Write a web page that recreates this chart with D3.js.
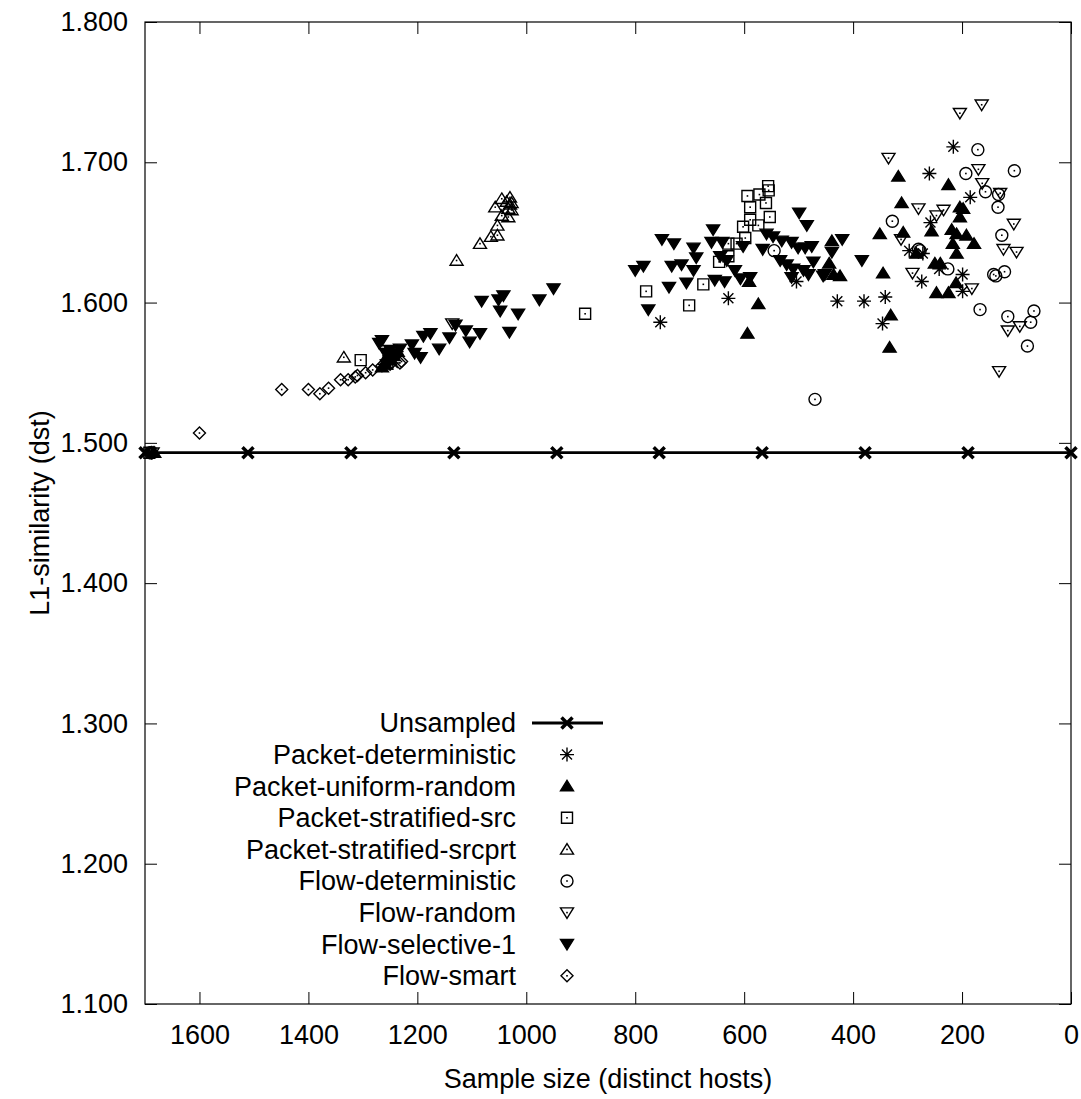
<!DOCTYPE html>
<html>
<head>
<meta charset="utf-8">
<script src="https://cdn.jsdelivr.net/npm/d3@7"></script>
<style>
  body { margin: 0; background: #fff; }
  svg text { font-family: "Liberation Sans", Arial, sans-serif; fill: #000; }
</style>
</head>
<body>
<svg id="chart" width="1081" height="1099"></svg>
<script>
// values: [sample size, L1-similarity]
const unsampled = [[1700,1.493],[1511,1.493],[1322,1.493],[1133,1.493],[944,1.493],[756,1.493],[567,1.493],[378,1.493],[189,1.493],[0,1.493]];

const packetDeterministic = [[1688,1.493],[1252,1.562],[1245,1.557],[1260,1.556],[1238,1.565],
  [754,1.586],[629,1.603],[504,1.615],[429,1.601],[380,1.601],[341,1.604],[346,1.585],[274,1.615],
  [216,1.711],[260,1.692],[185,1.675],[258,1.657],[297,1.637],[272,1.635],[242,1.624],[199,1.620],[199,1.608]];

const packetUniform = [[1683,1.493],[1258,1.556],[1250,1.559],[1243,1.562],[1265,1.554],[1236,1.565],[1255,1.562],
  [574,1.599],[594,1.578],[591,1.615],
  [317,1.690],[225,1.684],[311,1.671],[204,1.668],[198,1.667],[204,1.661],[256,1.651],[308,1.650],[351,1.649],
  [219,1.652],[210,1.649],[192,1.648],[217,1.642],[178,1.642],[210,1.635],[284,1.635],[439,1.644],[444,1.628],
  [345,1.621],[250,1.628],[240,1.628],[436,1.620],[424,1.619],[331,1.591],[333,1.568],[247,1.607],[225,1.607],[211,1.614]];

const packetSrc = [[1692,1.493],[1304,1.559],[892,1.592],[780,1.608],[701,1.598],[675,1.613],[646,1.629],[629,1.642],
  [629,1.633],[614,1.642],[602,1.654],[598,1.646],[589,1.668],[589,1.659],[574,1.655],[594,1.676],[572,1.677],
  [560,1.671],[553,1.661],[556,1.683],[555,1.680]];

const packetSrcprt = [[1685,1.493],[1335,1.561],[1128,1.630],[1085,1.642],[1065,1.647],[1053,1.648],[1053,1.655],
  [1045,1.662],[1033,1.661],[1057,1.668],[1045,1.674],[1030,1.675],[1036,1.672],[1027,1.671],[1033,1.667],
  [1027,1.666],[1030,1.670]];

const flowDeterministic = [[1690,1.493],[545,1.637],[470,1.531],[171,1.709],[193,1.692],[104,1.694],[157,1.679],
  [133,1.677],[134,1.668],[328,1.658],[127,1.648],[280,1.638],[277,1.637],[226,1.624],[142,1.620],[122,1.622],
  [138,1.619],[167,1.595],[116,1.590],[68,1.594],[74,1.586],[80,1.569]];

const flowRandom = [[1686,1.493],[1136,1.585],[164,1.741],[204,1.735],[335,1.703],[170,1.695],[163,1.685],[130,1.678],
  [280,1.667],[234,1.666],[247,1.662],[105,1.656],[312,1.645],[124,1.638],[100,1.636],[291,1.621],[182,1.610],
  [116,1.580],[94,1.583],[132,1.551]];

const flowSelective = [[1270,1.571],[1265,1.573],[1210,1.570],[1189,1.576],[1176,1.578],[1160,1.567],[1194,1.561],
  [1205,1.564],[1141,1.575],[1130,1.584],[1111,1.580],[1104,1.572],[1085,1.578],[1082,1.601],[1042,1.605],
  [1051,1.602],[1048,1.594],[1015,1.592],[976,1.602],[950,1.610],[1031,1.579],
  [1250,1.566],[1242,1.561],[1232,1.567],[1258,1.564],
  [751,1.645],[729,1.642],[693,1.639],[688,1.632],[657,1.652],[660,1.643],[640,1.643],[644,1.633],[632,1.630],
  [800,1.623],[785,1.626],[733,1.626],[715,1.627],[693,1.623],[706,1.614],[738,1.611],[776,1.595],[654,1.616],
  [636,1.615],[617,1.623],[607,1.617],[589,1.618],[602,1.640],[566,1.638],[559,1.649],[547,1.647],[531,1.644],
  [513,1.643],[499,1.664],[485,1.655],[501,1.639],[488,1.639],[476,1.640],[534,1.630],[522,1.627],[510,1.624],
  [513,1.618],[491,1.623],[482,1.620],[473,1.629],[455,1.619],[439,1.636],[420,1.645],[384,1.630],[452,1.620]];

const flowSmart = [[1600,1.507],[1449,1.538],[1400,1.538],[1379,1.535],[1363,1.539],[1341,1.545],[1327,1.545],
  [1314,1.547],[1310,1.548],[1295,1.550],[1282,1.552],[1265,1.555],[1250,1.556],[1232,1.557],[1229,1.558]];

const xTicks = [1600, 1400, 1200, 1000, 800, 600, 400, 200, 0];
const yTicks = [1.1, 1.2, 1.3, 1.4, 1.5, 1.6, 1.7, 1.8];

const series = [
  { name: "Unsampled", data: unsampled, shape: "cross", line: true },
  { name: "Packet-deterministic", data: packetDeterministic, shape: "star" },
  { name: "Packet-uniform-random", data: packetUniform, shape: "triUpFill" },
  { name: "Packet-stratified-src", data: packetSrc, shape: "square" },
  { name: "Packet-stratified-srcprt", data: packetSrcprt, shape: "triUp" },
  { name: "Flow-deterministic", data: flowDeterministic, shape: "circle" },
  { name: "Flow-random", data: flowRandom, shape: "triDown" },
  { name: "Flow-selective-1", data: flowSelective, shape: "triDownFill" },
  { name: "Flow-smart", data: flowSmart, shape: "diamond" }
];

const margin = { top: 22, right: 10, bottom: 95, left: 145 },
      width = 1071 - margin.left,
      height = 1004 - margin.top;
const fontSize = "27px";

const svg = d3.select("#chart");
const g = svg.append("g").attr("transform", `translate(${margin.left},${margin.top})`);

const x = d3.scaleLinear().domain([1700, 0]).range([0, width]);
const y = d3.scaleLinear().domain([1.1, 1.8]).range([height, 0]);

// axes, ticks pointing inward on all four sides
g.append("g")
  .attr("transform", `translate(0,${height})`)
  .call(d3.axisBottom(x).tickValues(xTicks).tickSize(-12).tickSizeOuter(0).tickPadding(21).tickFormat(d3.format("d")))
  .call(a => a.select(".domain").remove());
g.append("g")
  .call(d3.axisTop(x).tickValues(xTicks).tickSize(-12).tickSizeOuter(0).tickFormat(""))
  .call(a => a.select(".domain").remove());
g.append("g")
  .call(d3.axisLeft(y).tickValues(yTicks).tickSize(-12).tickSizeOuter(0).tickPadding(17).tickFormat(d3.format(".3f")))
  .call(a => a.select(".domain").remove());
g.append("g")
  .attr("transform", `translate(${width},0)`)
  .call(d3.axisRight(y).tickValues(yTicks).tickSize(-12).tickSizeOuter(0).tickFormat(""))
  .call(a => a.select(".domain").remove());

g.selectAll(".tick line").attr("stroke", "#000");
g.selectAll(".tick text").style("font-size", fontSize).attr("fill", "#000");

g.append("rect")
  .attr("width", width).attr("height", height)
  .attr("fill", "none").attr("stroke", "#000").attr("stroke-width", 1.2);

svg.append("text")
  .attr("x", margin.left + width / 2).attr("y", 1088)
  .attr("text-anchor", "middle").style("font-size", fontSize)
  .text("Sample size (distinct hosts)");

svg.append("text")
  .attr("transform", `translate(49,${margin.top + height / 2}) rotate(-90)`)
  .attr("text-anchor", "middle").style("font-size", fontSize)
  .text("L1-similarity (dst)");

function markerPath(shape) {
  switch (shape) {
    case "cross": return "M-5.5,-5.5L5.5,5.5M-5.5,5.5L5.5,-5.5";
    case "star": return "M-7,0H7M0,-7V7M-5,-5L5,5M-5,5L5,-5";
    case "triUp": case "triUpFill": return "M0,-5.8L6.5,4.7L-6.5,4.7Z";
    case "triDown": case "triDownFill": return "M0,5.8L6.5,-4.7L-6.5,-4.7Z";
    case "square": return "M-5.5,-5.5H5.5V5.5H-5.5Z";
    case "circle": return "M6,0A6,6 0 1,1 -6,0A6,6 0 1,1 6,0Z";
    case "diamond": return "M0,-6L6,0L0,6L-6,0Z";
  }
}

function drawMarker(sel, shape) {
  const filled = shape.endsWith("Fill");
  sel.append("path")
    .attr("d", markerPath(shape))
    .attr("fill", filled ? "#000" : "none")
    .attr("stroke", "#000")
    .attr("stroke-width", shape === "cross" ? 3.5 : 1.4);
  if (["triUp", "triDown", "square", "circle", "diamond"].includes(shape)) {
    sel.append("rect").attr("x", -0.8).attr("y", -0.8).attr("width", 1.6).attr("height", 1.6).attr("fill", "#000");
  }
}

series.forEach(s => {
  const layer = g.append("g");
  if (s.line) {
    layer.append("path")
      .datum(s.data)
      .attr("d", d3.line().x(d => x(d[0])).y(d => y(d[1])))
      .attr("fill", "none").attr("stroke", "#000").attr("stroke-width", 2.8);
  }
  layer.selectAll("g.pt")
    .data(s.data)
    .enter().append("g")
    .attr("class", "pt")
    .attr("transform", d => `translate(${x(d[0])},${y(d[1])})`)
    .each(function () { drawMarker(d3.select(this), s.shape); });
});

// legend
const legend = svg.selectAll(".legend")
  .data(series)
  .enter().append("g")
  .attr("class", "legend")
  .attr("transform", (d, i) => `translate(0,${723 + i * 31.6})`);

legend.append("text")
  .attr("x", 516).attr("dy", "0.35em")
  .attr("text-anchor", "end").style("font-size", fontSize)
  .text(d => d.name);

legend.filter(d => d.line).append("line")
  .attr("x1", 532).attr("x2", 603)
  .attr("stroke", "#000").attr("stroke-width", 2.8);

legend.append("g")
  .attr("transform", "translate(567,0)")
  .each(function (d) { drawMarker(d3.select(this), d.shape); });
</script>
</body>
</html>
